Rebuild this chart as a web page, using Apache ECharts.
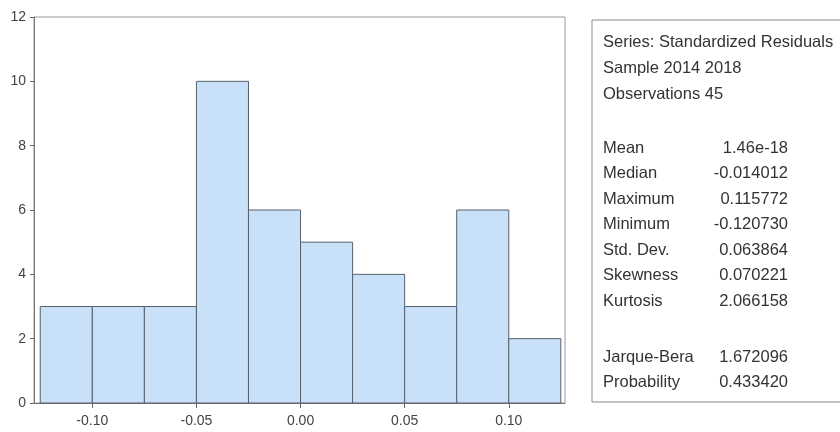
<!DOCTYPE html>
<html lang="en">
<head>
<meta charset="UTF-8">
<title>Histogram - Standardized Residuals</title>
<script src="https://cdn.jsdelivr.net/npm/echarts@6/dist/echarts.min.js"></script>
<style>
  html, body { margin: 0; padding: 0; background: #fff; }
  #main { width: 840px; height: 432px; }
</style>
</head>
<body>
<div id="main"></div>
<script>
// histogram bins (left edge / right edge) and counts
var binLeft  = [-0.125, -0.100, -0.075, -0.050, -0.025, 0.000, 0.025, 0.050, 0.075, 0.100];
var binRight = [-0.100, -0.075, -0.050, -0.025, 0.000, 0.025, 0.050, 0.075, 0.100, 0.125];
var counts   = [3, 3, 3, 10, 6, 5, 4, 3, 6, 2];

// x tick labels
var xTicks = [-0.10, -0.05, 0.00, 0.05, 0.10];

// stats box
var headerLines = ['Series: Standardized Residuals', 'Sample 2014 2018', 'Observations 45'];
var statNames  = ['Mean', 'Median', 'Maximum', 'Minimum', 'Std. Dev.', 'Skewness', 'Kurtosis'];
var statValues = ['1.46e-18', '-0.014012', '0.115772', '-0.120730', '0.063864', '0.070221', '2.066158'];
var testNames  = ['Jarque-Bera', 'Probability'];
var testValues = ['1.672096', '0.433420'];

var histData = counts.map(function (c, i) { return [binLeft[i], binRight[i], c]; });

var txtFont = { fontFamily: 'Liberation Sans, Arial, sans-serif', fontSize: 16.5, fill: '#333' };

function textEl(str, x, y, align) {
  return {
    type: 'text', x: x, y: y,
    style: Object.assign({ text: str, textAlign: align || 'left', textVerticalAlign: 'middle' }, txtFont)
  };
}

var graphics = [{
  type: 'rect',
  shape: { x: 592, y: 20, width: 260, height: 382 },
  style: { fill: '#fff', stroke: '#8a8a8a', lineWidth: 1 }
}];
headerLines.forEach(function (s, i) { graphics.push(textEl(s, 603, 42 + i * 26)); });
statNames.forEach(function (s, i) {
  graphics.push(textEl(s, 603, 148 + i * 25.5));
  graphics.push(textEl(statValues[i], 788, 148 + i * 25.5, 'right'));
});
testNames.forEach(function (s, i) {
  graphics.push(textEl(s, 603, 357 + i * 25));
  graphics.push(textEl(testValues[i], 788, 357 + i * 25, 'right'));
});

var chart = echarts.init(document.getElementById('main'));
chart.setOption({
  animation: false,
  backgroundColor: '#fff',
  grid: {
    left: 34, right: 275, top: 17, bottom: 29,
    show: true, borderColor: '#9a9a9a', borderWidth: 1, backgroundColor: '#fff'
  },
  xAxis: {
    type: 'value',
    min: -0.128, max: 0.127,
    axisLine: { show: true, onZero: false, lineStyle: { color: '#777' } },
    axisTick: { show: true, length: 5, customValues: xTicks, lineStyle: { color: '#666' } },
    axisLabel: {
      customValues: xTicks, margin: 11,
      color: '#444', fontSize: 14, fontFamily: 'Liberation Sans, Arial, sans-serif',
      formatter: function (v) { return v.toFixed(2); }
    },
    splitLine: { show: false }
  },
  yAxis: {
    type: 'value',
    min: 0, max: 12, interval: 2,
    axisLine: { show: true, onZero: false, lineStyle: { color: '#777' } },
    axisTick: { show: true, length: 4, lineStyle: { color: '#666' } },
    axisLabel: { margin: 8, color: '#444', fontSize: 14, fontFamily: 'Liberation Sans, Arial, sans-serif' },
    splitLine: { show: false }
  },
  series: [{
    type: 'custom',
    data: histData,
    encode: { x: [0, 1], y: 2 },
    renderItem: function (params, api) {
      var p0 = api.coord([api.value(0), api.value(2)]);
      var p1 = api.coord([api.value(1), 0]);
      return {
        type: 'rect',
        shape: { x: p0[0], y: p0[1], width: p1[0] - p0[0], height: p1[1] - p0[1] },
        style: { fill: '#c8e1f8', stroke: '#56606c', lineWidth: 1 }
      };
    }
  }],
  graphic: graphics
});
</script>
</body>
</html>
